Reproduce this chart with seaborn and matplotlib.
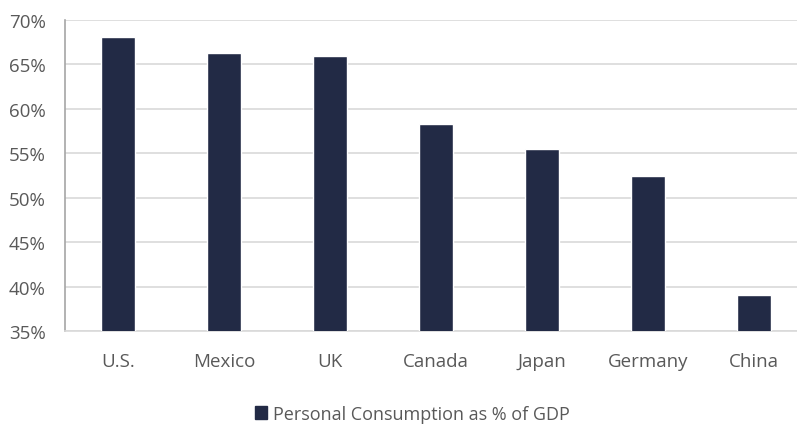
import matplotlib
matplotlib.use("Agg")
import matplotlib.pyplot as plt
import seaborn as sns
import pandas as pd
from matplotlib.ticker import FuncFormatter
from matplotlib.patches import Patch

countries = ["U.S.", "Mexico", "UK", "Canada", "Japan", "Germany", "China"]
consumption_pct = [68.1, 66.3, 66.0, 58.3, 55.5, 52.4, 39.0]
y_ticks = [35, 40, 45, 50, 55, 60, 65, 70]
series_label = "Personal Consumption as % of GDP"

bar_color = "#222a45"
text_color = "#595959"
grid_color = "#d9d9d9"

sns.set_theme(style="white")
plt.rcParams["font.family"] = ["Open Sans", "DejaVu Sans"]

df = pd.DataFrame({"country": countries, "value": consumption_pct})

fig = plt.figure(figsize=(7.97, 4.27), dpi=100)
ax = fig.add_axes([65 / 797, 1 - 332 / 427, (797 - 65) / 797, (332 - 21) / 427])

sns.barplot(data=df, x="country", y="value", color=bar_color, width=0.32,
            saturation=1, ax=ax, zorder=3)

ax.set_ylim(35, 70)
ax.set_yticks(y_ticks)
ax.yaxis.set_major_formatter(FuncFormatter(lambda v, _: f"{v:.0f}%"))
ax.set_xlim(-0.5, (797 - 65) / 106 - 0.5)

ax.grid(axis="y", color=grid_color, linewidth=1.2, zorder=0)
ax.set_axisbelow(True)
for side in ["top", "right"]:
    ax.spines[side].set_visible(False)
ax.spines["left"].set_color("#a6a6a6")
ax.spines["left"].set_linewidth(1.2)
ax.spines["bottom"].set_color(grid_color)
ax.spines["bottom"].set_linewidth(1.2)

ax.set_xlabel("")
ax.set_ylabel("")
ax.tick_params(axis="both", length=0, labelsize=13.5, labelcolor=text_color)
ax.tick_params(axis="x", pad=15)
ax.tick_params(axis="y", pad=14)

handle = Patch(facecolor=bar_color, edgecolor=bar_color, label=series_label)
fig.legend(handles=[handle], loc="center", bbox_to_anchor=(412 / 797, 1 - 415 / 427),
           frameon=False, fontsize=13, labelcolor=text_color,
           handlelength=0.7, handleheight=0.7, handletextpad=0.3)

fig.savefig("out.png", dpi=100)
